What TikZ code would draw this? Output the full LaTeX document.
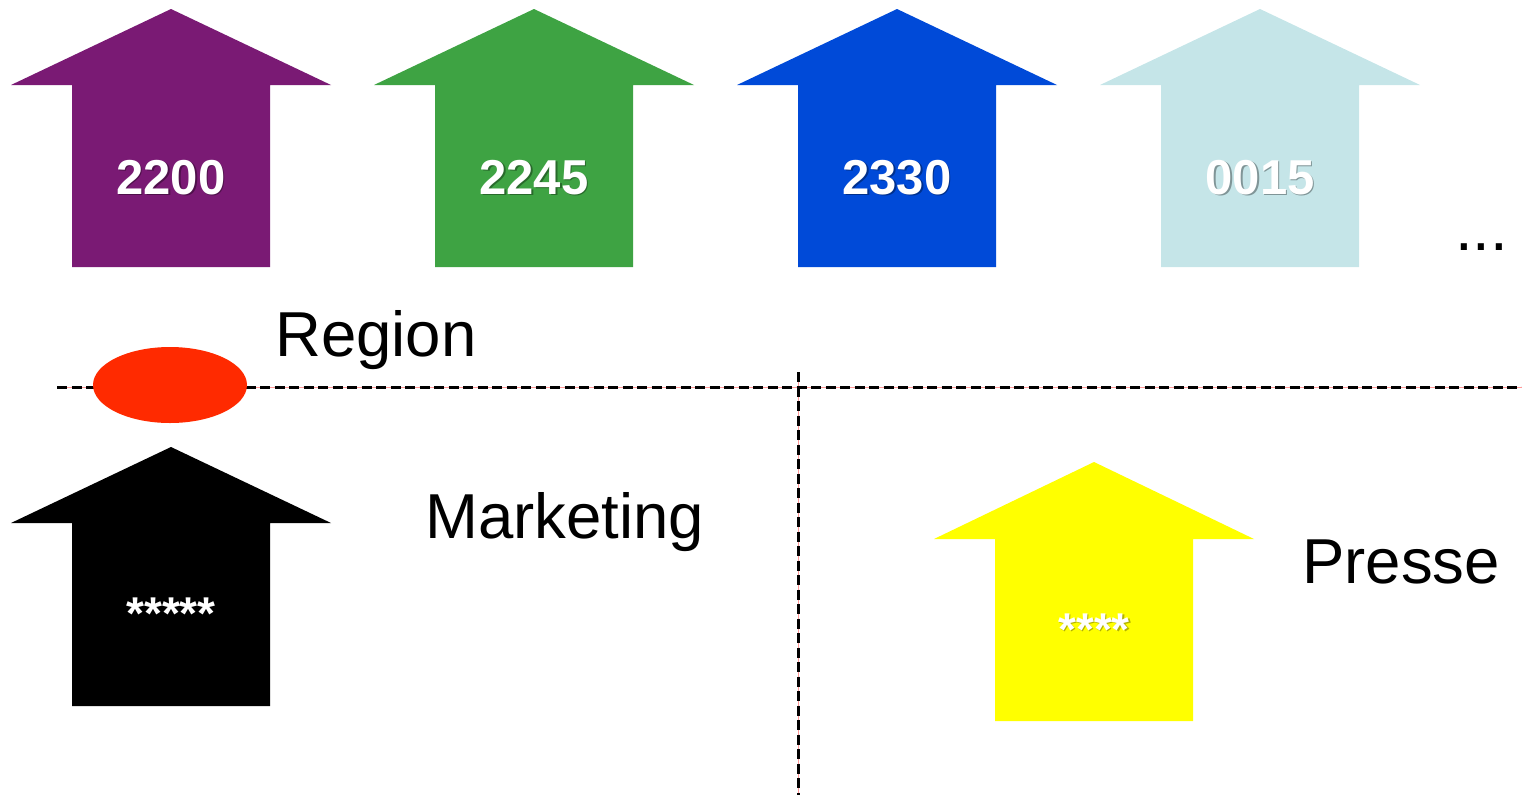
\documentclass[tikz,border=0pt]{standalone}
\usepackage{fontspec}
\setmainfont{Liberation Sans}
\definecolor{cpurple}{HTML}{7A1A74}
\definecolor{cgreen}{HTML}{3EA343}
\definecolor{cblue}{HTML}{004AD8}
\definecolor{clight}{HTML}{C5E5E8}
\definecolor{cred}{HTML}{FF2A00}
\definecolor{cyellow}{HTML}{FFFF00}
\newcommand{\myuparr}[6]{% #1 colour, #2 tip x, #3 tip y, #4 head base y, #5 bottom y, #6 name
  \fill[#1] (#2,#3) -- (#2+160,#4) -- (#2+99,#4) -- (#2+99,#5) -- (#2-99,#5) -- (#2-99,#4) -- (#2-160,#4) -- cycle;
  \coordinate (#6) at (#2,#3);}
\begin{document}
\begin{tikzpicture}[x=1pt,y=-1pt,
  num/.style={anchor=base,text=white,font=\fontsize{49}{50}\selectfont\bfseries,inner sep=0},
  numshadow/.style={anchor=base,text=black,opacity=0.35,font=\fontsize{49}{50}\selectfont\bfseries,inner sep=0},
  stars/.style={anchor=base,text=white,font=\fontsize{46}{48}\selectfont\bfseries,inner sep=0},
  lbl/.style={anchor=base west,text=black,font=\fontsize{63.5}{65}\selectfont,inner sep=0},
  divider/.style={line width=3pt,dash pattern=on 10pt off 4.5pt,black},
  pinkline/.style={line width=0.7pt,pink!80!red}]
\useasboundingbox (0,0) rectangle (1522,795);
% arrows
\myuparr{cpurple}{171}{9}{85}{267}{a1}
\myuparr{cgreen}{534}{9}{85}{267}{a2}
\myuparr{cblue}{897}{9}{85}{267}{a3}
\myuparr{clight}{1260}{9}{85}{267}{a4}
\myuparr{black}{171}{447}{523}{706}{m1}
\myuparr{cyellow}{1094}{462}{539}{721}{p1}
% numbers
\foreach \x/\t/\n in {171/2200/t1,534/2245/t2,897/2330/t3,1260/0015/t4}{
  \node[numshadow] at (\x+1.5,195.5) {\t};
  \node[num] (\n) at (\x,194) {\t};
}
% dividers
\coordinate (hl) at (57,387);
\coordinate (hr) at (1522,387);
\coordinate (vt) at (798,372);
\coordinate (vb) at (798,795);
\draw[pinkline] (hl) -- (hr);
\draw[pinkline] (vt) -- (vb);
\draw[divider] (hl) -- (hr);
\draw[divider] (vt) -- (vb);
% ellipse
\fill[cred] (170,385) ellipse [x radius=77, y radius=38];
\node[inner sep=0] (ell) at (170,385) {};
% labels
\node[lbl] (region) at (275,356) {Region};
\node[lbl] (marketing) at (425,538) {Marketing};
\node[lbl] (presse) at (1302,583) {Presse};
\node[lbl] (dots) at (1455,250) {...};
% asterisks
\node[stars] (s1) at (171,629) {*****};
\node[anchor=base,text=black,opacity=0.3,font=\fontsize{46}{48}\selectfont\bfseries,inner sep=0] at (1095.5,646.5) {****};
\node[stars] (s2) at (1094,645) {****};
\end{tikzpicture}
\end{document}
